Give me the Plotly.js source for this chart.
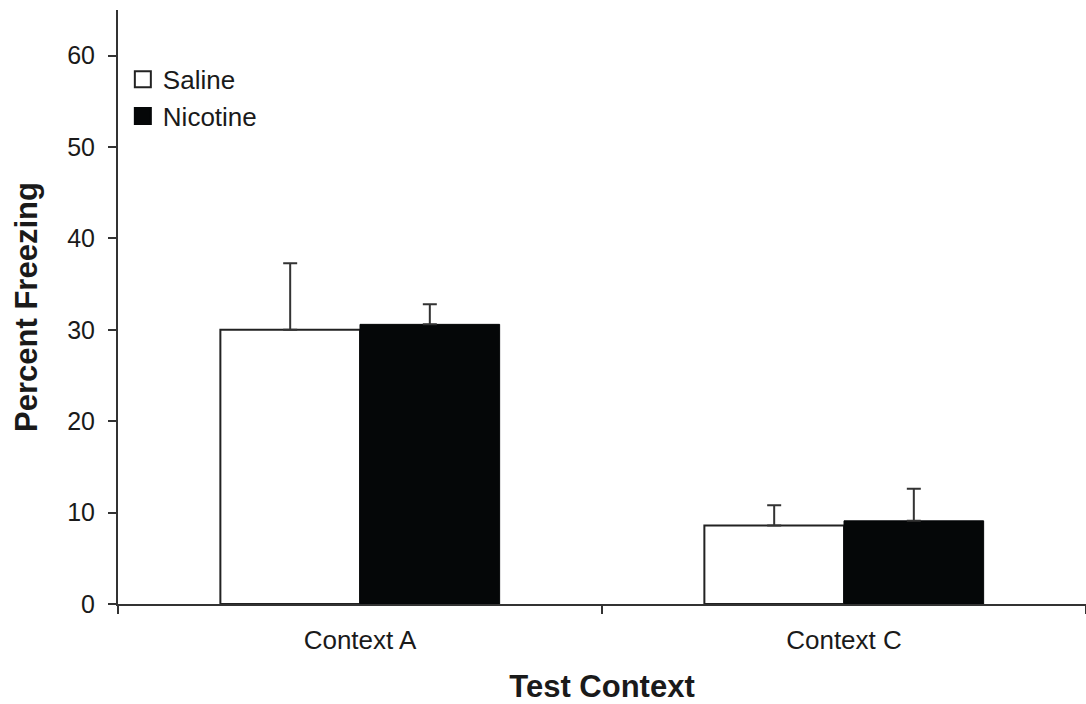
<!DOCTYPE html>
<html><head><meta charset="utf-8">
<script src="https://cdn.plot.ly/plotly-3.0.1.min.js"></script>
<style>html,body{margin:0;padding:0;background:#fff}#chart{width:1086px;height:704px}</style>
</head><body><div id="chart"></div>
<script>
const categories = ["Context A", "Context C"];
const seriesNames = ["Saline", "Nicotine"];
const salineValues = [30.0, 8.6];
const salineErrors = [7.3, 2.2];
const nicotineValues = [30.6, 9.1];
const nicotineErrors = [2.2, 3.5];
const yTicks = [0, 10, 20, 30, 40, 50, 60];

const font = "Liberation Sans, Arial, sans-serif";
const ink = "#1a1a1a";
const fills = ["#ffffff", "#050708"];
const traces = [
  {type: "bar", name: seriesNames[0], x: categories, y: salineValues, showlegend: false,
   marker: {color: fills[0], line: {color: "#222222", width: 2}},
   error_y: {type: "data", symmetric: false, array: salineErrors, arrayminus: [0, 0], color: "#333333", thickness: 2, width: 7}},
  {type: "bar", name: seriesNames[1], x: categories, y: nicotineValues, showlegend: false,
   marker: {color: fills[1], line: {color: fills[1], width: 1}},
   error_y: {type: "data", symmetric: false, array: nicotineErrors, arrayminus: [0, 0], color: "#333333", thickness: 2, width: 7}},
  // legend entries with larger square swatches
  {type: "scatter", mode: "markers", name: seriesNames[0], x: [null], y: [null], hoverinfo: "skip",
   marker: {symbol: "square", size: 18, color: fills[0], line: {color: "#222222", width: 2}}},
  {type: "scatter", mode: "markers", name: seriesNames[1], x: [null], y: [null], hoverinfo: "skip",
   marker: {symbol: "square", size: 18, color: fills[1], line: {color: fills[1], width: 2}}}
];
const layout = {
  width: 1086, height: 704,
  margin: {l: 118, r: 0, t: 10, b: 100},
  paper_bgcolor: "#ffffff", plot_bgcolor: "#ffffff",
  barmode: "group", bargap: 0.423, bargroupgap: 0,
  font: {family: font, color: ink, size: 24},
  showlegend: true,
  legend: {x: 0.005, y: 0.923, xanchor: "left", yanchor: "top", bgcolor: "rgba(0,0,0,0)",
           font: {size: 26, family: font, color: ink}, tracegroupgap: 0, itemwidth: 30},
  xaxis: {type: "category", showline: true, linecolor: "#333333", linewidth: 2,
          ticks: "outside", tickson: "boundaries", ticklen: 8, tickwidth: 2, tickcolor: "#333333",
          ticklabelstandoff: 12,
          showgrid: false, zeroline: false, tickfont: {size: 26, family: font, color: ink},
          title: {text: "<b>Test Context</b>", font: {size: 31, family: font, color: ink}, standoff: 22}},
  yaxis: {range: [0, 65], tickvals: yTicks, showline: true, linecolor: "#333333", linewidth: 2,
          ticks: "outside", ticklen: 8, tickwidth: 2, tickcolor: "#333333",
          ticklabelstandoff: 8,
          showgrid: false, zeroline: false, tickfont: {size: 25, family: font, color: ink},
          title: {text: "<b>Percent Freezing</b>", font: {size: 31, family: font, color: ink}, standoff: 20}}
};
Plotly.newPlot("chart", traces, layout, {displayModeBar: false, staticPlot: true});
</script></body></html>
